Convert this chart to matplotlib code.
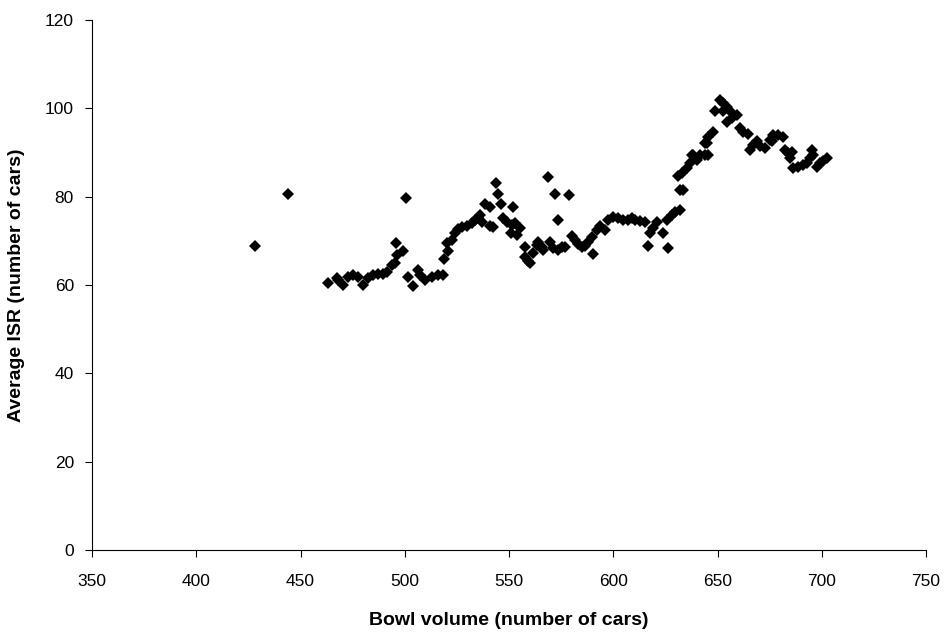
import matplotlib
matplotlib.use("Agg")
import matplotlib.pyplot as plt

plt.rcParams['font.family'] = ['Liberation Sans', 'DejaVu Sans']

bowl_volume = [
    428, 444, 463.3, 467.3, 468.1, 470.5, 473, 475.4, 477.8, 480.1, 482.5, 484.9,
    487.3, 489.7, 491.3, 493.7, 495.3, 495.8, 496.1, 499.3, 500.6, 501.7, 504.1,
    506.5, 507.3, 509.7, 512.9, 516.1, 518.2, 518.8, 520.1, 520.9, 522.5, 524.1,
    525.7, 527.3, 529.7, 532.1, 533.7, 535.3, 536.1, 536.9, 538.5, 540.9, 540.9,
    542.5, 543.8, 544.9, 546.0, 547.3, 548.9, 550.8, 551.3, 551.7, 552.9, 553.7,
    555.3, 557.7, 557.7, 559.2, 560.1, 561.7, 563.3, 564.1, 565.7, 566.4, 568.8,
    569.7, 571.2, 572.1, 573.7, 573.7, 575.3, 576.9, 578.9, 580.1, 581.7, 583.3,
    584.9, 586.5, 588.1, 589.7, 590.4, 592.0, 593.6, 596.0, 597.6, 600.0, 602.4,
    604.8, 607.2, 608.8, 610.4, 612.8, 615.2, 616.8, 617.6, 619.2, 620.8, 624.0,
    625.6, 626.4, 628.0, 629.6, 631.2, 632.0, 632.0, 632.8, 633.6, 635.2, 636.8,
    637.6, 638.4, 640.0, 641.6, 644.0, 644.0, 644.8, 645.6, 645.6, 648.0, 648.8,
    651.2, 652.8, 652.8, 654.4, 654.4, 656.0, 656.8, 659.2, 660.8, 662.4, 664.8,
    665.6, 667.2, 668.8, 670.4, 672.8, 675.2, 676.0, 676.8, 679.2, 681.6, 682.4,
    684.0, 684.8, 685.6, 686.4, 688.8, 691.2, 692.8, 694.4, 695.2, 696.0, 697.6,
    699.2, 700.8, 702.7,
]
average_isr = [
    68.8, 80.7, 60.4, 61.5, 61.1, 59.9, 61.9, 62.3, 61.9, 60.0, 61.5, 62.3,
    62.6, 62.6, 63.0, 64.5, 65.0, 69.6, 66.8, 67.8, 79.8, 61.9, 59.8,
    63.4, 62.3, 61.1, 61.9, 62.3, 62.3, 65.8, 69.6, 67.6, 70.2, 71.7,
    72.6, 73.1, 73.4, 74.0, 74.7, 75.1, 75.8, 74.3, 78.3, 77.7, 73.4,
    73.2, 83.2, 80.6, 78.3, 75.1, 74.3, 71.7, 73.6, 77.7, 74.1, 71.3,
    72.8, 68.7, 66.3, 65.5, 64.9, 67.2, 69.1, 69.8, 68.7, 67.9, 84.5,
    69.8, 68.3, 80.6, 74.7, 67.9, 68.7, 68.7, 80.4, 71.0, 70.2, 69.3,
    68.5, 68.8, 69.8, 70.8, 67.0, 72.4, 73.4, 72.4, 74.7, 75.5, 75.1,
    74.7, 74.7, 75.1, 74.7, 74.6, 74.3, 68.8, 71.7, 72.8, 74.3, 71.7,
    74.7, 68.3, 75.8, 76.6, 84.7, 81.5, 77.0, 85.3, 81.5, 86.4, 87.6,
    89.4, 89.4, 88.3, 89.4, 89.4, 92.1, 92.1, 89.4, 93.6, 94.7, 99.3,
    101.9, 101.1, 99.3, 100.4, 97.0, 99.3, 97.8, 98.5, 95.5, 94.7, 94.3,
    90.6, 91.7, 92.5, 91.4, 91.0, 92.8, 92.5, 94.0, 94.0, 93.6, 90.6,
    89.8, 88.7, 90.2, 86.6, 86.8, 87.2, 87.6, 88.7, 90.6, 89.4, 86.8,
    87.6, 88.0, 88.7,
]

x_ticks = [350, 400, 450, 500, 550, 600, 650, 700, 750]
y_ticks = [0, 20, 40, 60, 80, 100, 120]

fig = plt.figure(figsize=(9.45, 6.33), dpi=100)
ax = fig.add_axes([92/945, 1-550/633, (926-92)/945, (550-20)/633])

ax.plot(bowl_volume, average_isr, linestyle='none', marker='D',
        markersize=5.8, color='black', markeredgewidth=0)

ax.set_xlim(350, 750)
ax.set_ylim(0, 120)
ax.set_xticks(x_ticks)
ax.set_yticks(y_ticks)
ax.tick_params(axis='both', direction='out', length=5, width=0.8,
               labelsize=12.5, colors='black')
ax.tick_params(axis='x', pad=12)
ax.tick_params(axis='y', pad=8)
for s in ['top', 'right']:
    ax.spines[s].set_visible(False)
for s in ['left', 'bottom']:
    ax.spines[s].set_linewidth(0.8)
    ax.spines[s].set_color('black')

ax.set_xlabel('Bowl volume (number of cars)', fontsize=14, fontweight='bold',
              labelpad=17)
ax.set_ylabel('Average ISR (number of cars)', fontsize=14, fontweight='bold',
              labelpad=14)

fig.savefig('out.png', dpi=100, facecolor='white')
